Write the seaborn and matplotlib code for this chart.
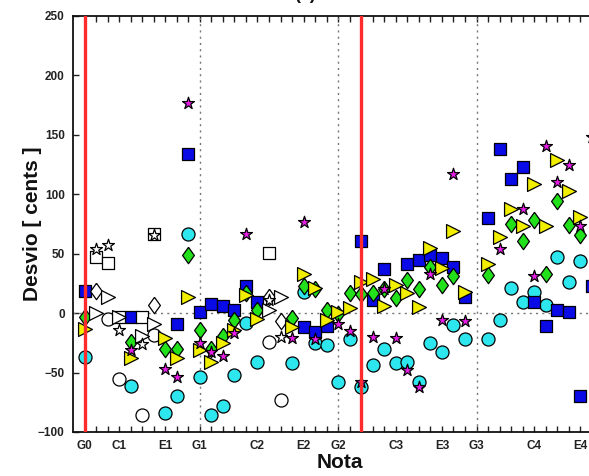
import numpy as np
import pandas as pd
import matplotlib
matplotlib.use("Agg")
import matplotlib.pyplot as plt
import seaborn as sns

nan = np.nan

# ---- data -------------------------------------------------------------
note_index = list(range(45))
note_labels = ["G0", "C1", "E1", "G1", "C2", "E2", "G2", "C3", "E3", "G3", "C4", "E4"]
note_positions = [0, 3, 7, 10, 15, 19, 22, 27, 31, 34, 39, 43]
octave_lines = [10, 22, 34]
red_lines = [0, 24]
hollow_idx = [1, 2, 3, 5, 6, 16, 17]

squares = [19, 47, 42, -3, -3, -3, 67, nan, -9, 134,
           1, 8, 6, 3, 23, 9, 51, nan, nan, -12,
           -16, -11, nan, nan, 61, 11, 37, nan, 41, 45,
           49, 46, 39, 14, nan, 80, 138, 113, 123, 9,
           -11, 3, 1, -70, 23]
circles = [-37, nan, -5, -55, -61, -86, -18, -84, -70, 67,
           -54, -86, -78, -52, -8, -41, -24, -73, -42, 18,
           -25, -27, -58, -22, -62, -44, -30, -42, -41, -58,
           -25, -33, -10, -22, nan, -22, -6, 21, 9, 18,
           7, 47, 26, 44, nan]
diamonds = [-3, 19, nan, nan, -24, nan, 7, -30, -30, 49,
            -14, -30, -19, -6, 17, 3, 14, -7, -4, 23,
            20, 3, -1, 17, 16, 17, 20, 13, 28, 20,
            39, 24, 31, nan, nan, 32, nan, 75, 61, 78,
            33, 94, 74, 66, nan]
triangles = [-13, 0, 14, -3, -38, -19, -9, -21, -38, 14,
             -31, -41, -25, -14, 15, -5, 3, 14, -12, 33,
             21, -6, 1, 4, 26, 29, 6, 24, 17, 5,
             55, 38, 69, 18, nan, 41, 64, 88, 73, 109,
             73, 129, 103, 81, nan]
stars = [nan, 54, 57, -14, -31, -26, 66, -47, -54, 177,
         -25, -33, -36, -17, 67, nan, 11, -20, -21, 77,
         -22, nan, -9, -15, -58, -20, 20, -21, -48, -62,
         33, -6, 117, -7, nan, nan, 54, nan, 88, 31,
         141, 110, 125, 73, 148]

series_names = ["circles", "squares", "diamonds", "triangles", "stars"]
series_values = [circles, squares, diamonds, triangles, stars]
series_colors = ["#2ee6ee", "#0a0ae6", "#22e01a", "#f2ee00", "#e81ee8"]

# ---- figure -----------------------------------------------------------
sns.set_style("ticks")
plt.rcParams["font.family"] = ["Liberation Sans", "DejaVu Sans"]

fig = plt.figure(figsize=(5.89, 4.76), dpi=100)
ax = fig.add_axes([73 / 589, 44 / 476, 49 * 11.53 / 589, 416 / 476])

diamond_path = [(0, 1), (0.72, 0), (0, -1), (-0.72, 0), (0, 1)]
marker_map = {"circles": "o", "squares": "s", "diamonds": diamond_path,
              "triangles": ">", "stars": "*"}
size_map = {"circles": 9.4 ** 2, "squares": 8.2 ** 2, "diamonds": 11.8 ** 2,
            "triangles": 10.0 ** 2, "stars": 9.0 ** 2}

for name, vals, col in zip(series_names, series_values, series_colors):
    df = pd.DataFrame({"idx": note_index, "cents": vals})
    df["hollow"] = df["idx"].isin(hollow_idx)
    df = df.dropna()
    for hollow, sub in df.groupby("hollow"):
        sns.scatterplot(data=sub, x="idx", y="cents", ax=ax,
                        marker=marker_map[name], s=size_map[name],
                        color="white" if hollow else col,
                        edgecolor="black", linewidth=0.9, zorder=3,
                        legend=False)

ax.axhline(0, color="#777777", ls=(0, (1.5, 3)), lw=1.0, zorder=1)
for x in octave_lines:
    ax.axvline(x, color="#777777", ls=(0, (1.5, 3)), lw=1.0, zorder=1)
for x in red_lines:
    ax.axvline(x, color="#ff2a2a", lw=2.4, zorder=5)

ax.set_xlim(-1, 48)
ax.set_ylim(-100, 250)
ax.set_xticks(note_index, minor=True)
ax.set_xticks(note_positions)
ax.set_xticklabels(note_labels)
ax.set_yticks(range(-100, 251, 50))
ax.set_yticklabels(["\u2212100", "\u221250", "0", "50", "100", "150", "200", "250"])
ax.tick_params(which="both", direction="in", top=True, bottom=True,
               left=True, right=False, length=4.5, width=1.0, color="#222222")
ax.tick_params(axis="both", labelsize=8.5, pad=6)
for lab in ax.get_xticklabels() + ax.get_yticklabels():
    lab.set_fontweight("bold")
    lab.set_color("#222222")
for sp in ax.spines.values():
    sp.set_linewidth(1.3)
    sp.set_color("#111111")
ax.spines["right"].set_visible(False)

ax.set_xlabel("")
ax.set_ylabel("")
fig.text(340 / 589, 1 - 463 / 476, "Nota", ha="center", va="center",
         fontsize=15, fontweight="bold", color="#111111")
fig.text(33 / 589, 1 - 224 / 476, "Desvio [ cents ]", ha="center", va="center",
         rotation=90, fontsize=15, fontweight="bold", color="#111111")
fig.text(305 / 589, 1 - 3 / 476, "(a)", ha="center", va="bottom",
         fontsize=13, fontweight="bold", color="#111111")

fig.savefig("out.png", dpi=100)
